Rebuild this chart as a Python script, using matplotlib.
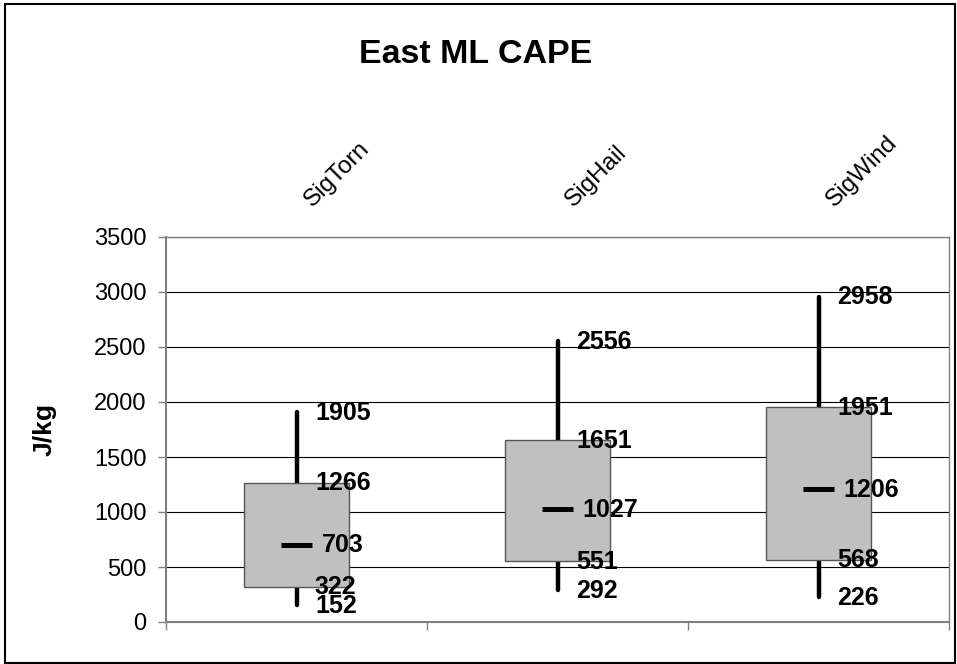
import matplotlib
matplotlib.use("Agg")
import matplotlib.pyplot as plt
from matplotlib.patches import Rectangle
import numpy as np

plt.rcParams['font.family'] = ['Liberation Sans', 'DejaVu Sans']

categories = ['SigTorn', 'SigHail', 'SigWind']
mins = [152, 292, 226]
q1 = [322, 551, 568]
medians = [703, 1027, 1206]
q3 = [1266, 1651, 1951]
maxs = [1905, 2556, 2958]
yticks = [0, 500, 1000, 1500, 2000, 2500, 3000, 3500]

W, H = 957, 664
fig = plt.figure(figsize=(W / 100, H / 100), dpi=100)
ax = fig.add_axes([166 / W, 42 / H, 783 / W, 385 / H])

x = np.arange(len(categories))
q1a = np.array(q1)
q3a = np.array(q3)

# whiskers
ax.vlines(x, mins, maxs, colors='black', lw=3.2, zorder=3, capstyle='round')
# boxes
ax.bar(x, q3a - q1a, bottom=q1a, width=0.40, color='#C0C0C0',
       edgecolor='#555555', linewidth=1.0, zorder=4)
# medians
ax.hlines(medians, x - 0.058, x + 0.058, colors='black', lw=3.6, zorder=5,
          capstyle='butt')

lab_kw = dict(textcoords='offset points', ha='left', va='center',
              fontsize=18, fontweight='bold', zorder=6)
for i in range(len(categories)):
    for v in (mins[i], q1[i], q3[i], maxs[i]):
        ax.annotate(str(v), xy=(x[i], v), xytext=(13.3, -0.5), **lab_kw)
    ax.annotate(str(medians[i]), xy=(x[i], medians[i]), xytext=(18, -0.5),
                **lab_kw)

ax.set_xlim(-0.5, len(categories) - 0.5)
ax.set_ylim(0, 3500)
ax.set_yticks(yticks)
ax.set_yticklabels([str(t) for t in yticks], fontsize=17)
ax.set_xticks(np.arange(len(categories) + 1) - 0.5)
ax.set_xticklabels([])
ax.tick_params(axis='both', direction='out', length=6, width=1,
               color='#808080', pad=8)
ax.yaxis.grid(True, color='black', lw=0.8)
ax.set_axisbelow(True)
for s in ('left', 'bottom'):
    ax.spines[s].set_color('#808080')
    ax.spines[s].set_linewidth(1.5)
for s in ('top', 'right'):
    ax.spines[s].set_color('#808080')
    ax.spines[s].set_linewidth(1.0)

ax.set_ylabel('J/kg', fontsize=19, fontweight='bold')
ax.yaxis.set_label_coords(-0.14, 0.50)

# category labels above the plot, rotated
for i, c in enumerate(categories):
    ax.annotate(c, xy=(x[i], 1.0), xycoords=('data', 'axes fraction'),
                xytext=(14, 19), textcoords='offset points',
                ha='left', va='bottom', rotation=45, rotation_mode='anchor',
                fontsize=17.5)

fig.text(0.497, 1 - 63 / H, 'East ML CAPE', ha='center', va='baseline',
         fontsize=24.5, fontweight='bold')

fig.patches.append(Rectangle((5 / W, 1 / H), 950 / W, 659 / H,
                             transform=fig.transFigure, fill=False,
                             edgecolor='black', lw=1.5))

fig.savefig('out.png', dpi=100)
